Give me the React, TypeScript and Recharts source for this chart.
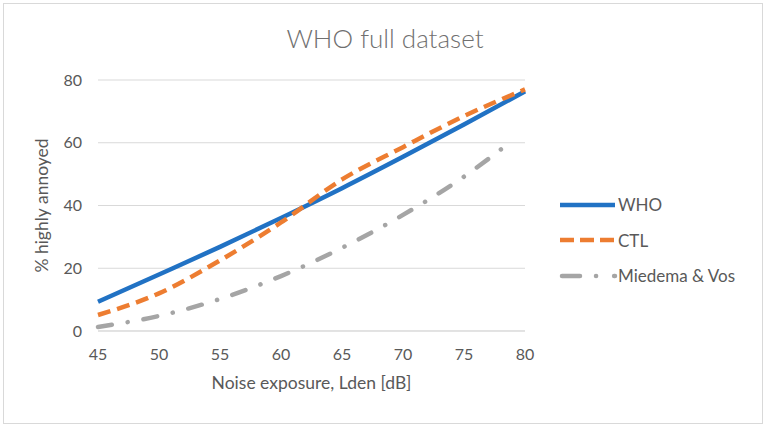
import React from "react";
import {
  LineChart,
  Line,
  XAxis,
  YAxis,
  CartesianGrid,
  Legend,
  Label,
} from "recharts";

// noise levels (Lden, dB)
const lden = [45, 50, 55, 60, 65, 70, 75, 80];
const whoValues = [9.3, 18, 26.8, 36, 45.5, 55.5, 65.8, 76.4];
const ctlValues = [5.1, 12, 22.5, 34.6, 48.3, 58.6, 68.5, 77];

// Miedema & Vos stops a little before 80
const mvLden = [45, 50, 55, 60, 65, 70, 75, 78.5];
const mvValues = [1.3, 4.8, 10.2, 17.5, 26.5, 37, 49.2, 59.3];

const xTicks = [45, 50, 55, 60, 65, 70, 75, 80];
const yTicks = [0, 20, 40, 60, 80];

const whoData = lden.map((x, i) => ({ x, y: whoValues[i] }));
const ctlData = lden.map((x, i) => ({ x, y: ctlValues[i] }));
const mvData = mvLden.map((x, i) => ({ x, y: mvValues[i] }));

const FONT = "Lato, 'Open Sans', sans-serif";
const TEXT = "#595959";

const series = [
  { name: "WHO", color: "#2172c4", dash: undefined, cap: "butt", x1: 4 },
  { name: "CTL", color: "#ed7d31", dash: "14 6", cap: "butt", x1: 4 },
  { name: "Miedema & Vos", color: "#a5a5a5", dash: "18 16 0.1 18", cap: "round", x1: 6 },
];

const renderLegend = () => (
  <div style={{ fontFamily: FONT, fontSize: 17, color: TEXT }}>
    {series.map((s) => (
      <div
        key={s.name}
        style={{ display: "flex", alignItems: "center", height: 35.5 }}
      >
        <svg width={62} height={10}>
          <line
            x1={s.x1}
            y1={5}
            x2={59}
            y2={5}
            stroke={s.color}
            strokeWidth={4.5}
            strokeDasharray={s.dash}
            strokeLinecap={s.cap as any}
          />
        </svg>
        <span>{s.name}</span>
      </div>
    ))}
  </div>
);

export default function App() {
  return (
    <div
      style={{
        position: "absolute",
        left: 0,
        top: 0,
        width: 767,
        height: 428,
        background: "#fff",
      }}
    >
      <div
        style={{
          position: "absolute",
          left: 3,
          top: 3,
          width: 758,
          height: 419,
          border: "1px solid #d9d9d9",
        }}
      />
      <div
        style={{
          position: "absolute",
          left: 0,
          top: 22,
          width: 770,
          textAlign: "center",
          fontFamily: FONT,
          fontSize: 26,
          fontWeight: 300,
          color: "#707070",
        }}
      >
        WHO full dataset
      </div>
      <div style={{ position: "absolute", left: 0, top: 0 }}>
        <LineChart
          width={767}
          height={428}
          margin={{ top: 80, right: 242, left: 38, bottom: 37 }}
        >
          <CartesianGrid vertical={false} stroke="#d9d9d9" strokeWidth={1.2} />
          <XAxis
            dataKey="x"
            type="number"
            domain={[45, 80]}
            ticks={xTicks}
            allowDuplicatedCategory={false}
            axisLine={{ stroke: "#d9d9d9" }}
            tickLine={false}
            tickMargin={12}
            height={60}
            tick={{ fill: TEXT, fontSize: 16, fontFamily: FONT }}
          >
            <Label
              value="Noise exposure, Lden [dB]"
              position="insideBottom"
              offset={2}
              style={{ fill: TEXT, fontSize: 17.5, fontFamily: FONT }}
            />
          </XAxis>
          <YAxis
            dataKey="y"
            type="number"
            domain={[0, 80]}
            ticks={yTicks}
            axisLine={false}
            tickLine={false}
            tickMargin={10}
            width={60}
            tick={{ fill: TEXT, fontSize: 16, fontFamily: FONT }}
          >
            <Label
              value="% highly annoyed"
              angle={-90}
              position="insideLeft"
              offset={4}
              style={{
                fill: TEXT,
                fontSize: 17.5,
                fontFamily: FONT,
                textAnchor: "middle",
              }}
            />
          </YAxis>
          <Legend
            layout="vertical"
            align="center"
            verticalAlign="middle"
            content={renderLegend}
            wrapperStyle={{ left: 556, top: 187, width: 200 }}
          />
          <Line
            data={mvData}
            dataKey="y"
            name="Miedema & Vos"
            type="monotone"
            stroke="#a5a5a5"
            strokeWidth={4.5}
            strokeDasharray="14 16 0.1 16"
            strokeLinecap="round"
            dot={false}
            isAnimationActive={false}
          />
          <Line
            data={whoData}
            dataKey="y"
            name="WHO"
            type="monotone"
            stroke="#2172c4"
            strokeWidth={4.5}
            dot={false}
            isAnimationActive={false}
          />
          <Line
            data={ctlData}
            dataKey="y"
            name="CTL"
            type="monotone"
            stroke="#ed7d31"
            strokeWidth={4.5}
            strokeDasharray="13 7"
            dot={false}
            isAnimationActive={false}
          />
        </LineChart>
      </div>
    </div>
  );
}
